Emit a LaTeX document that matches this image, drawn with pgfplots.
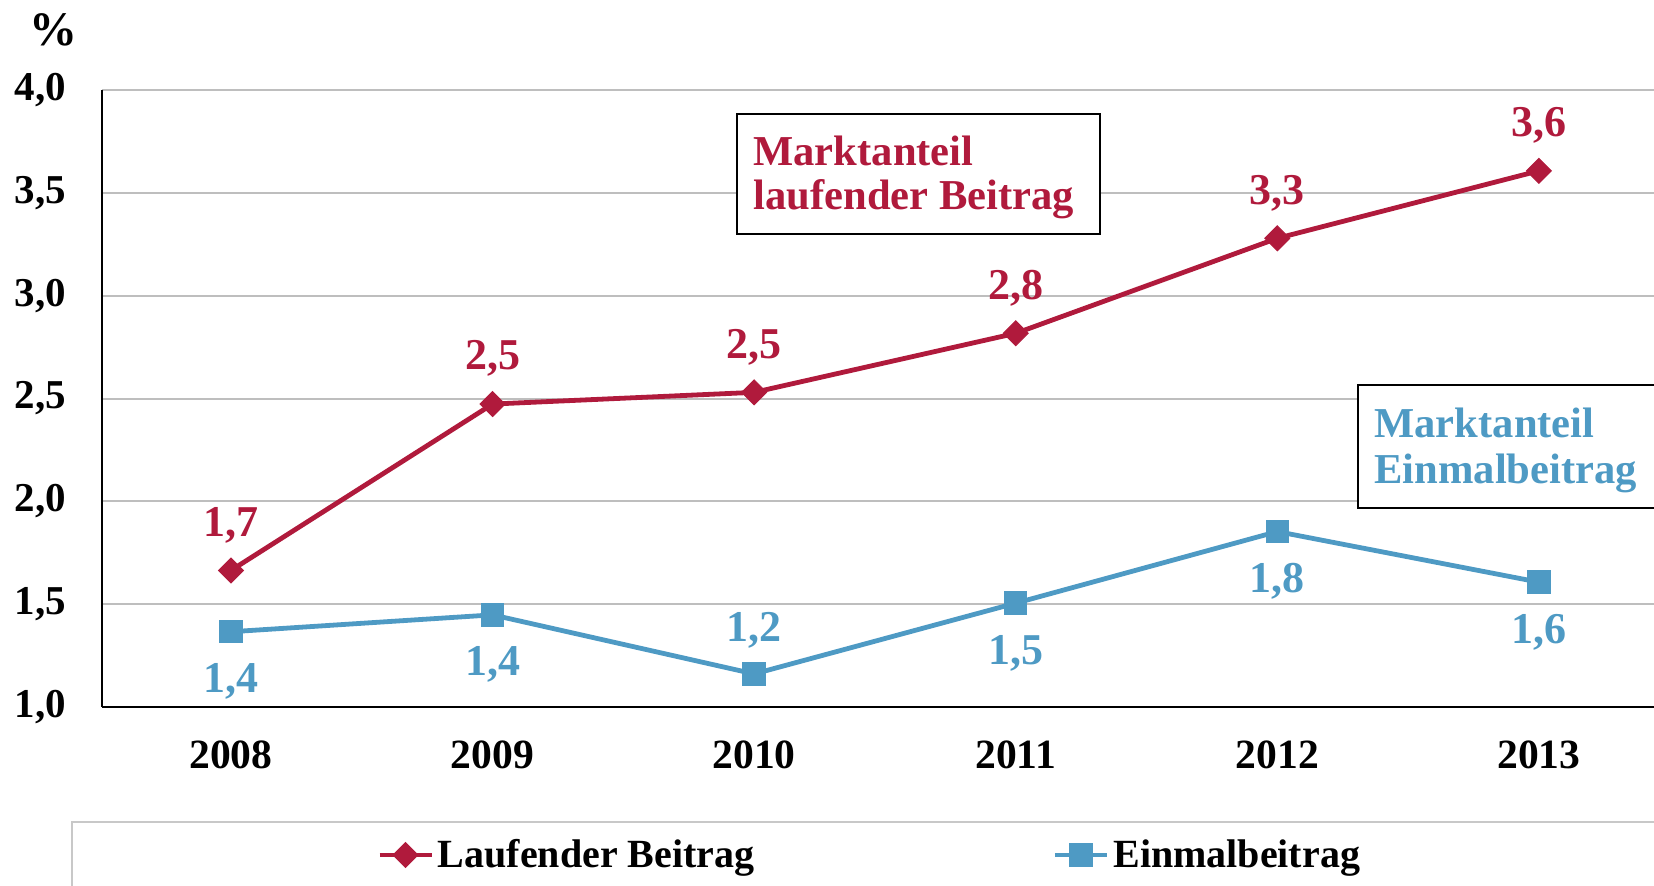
\documentclass[border=0pt]{standalone}
\usepackage{fontspec}
\setmainfont{Liberation Serif}
\usepackage{pgfplots}
\pgfplotsset{compat=1.18}
\usepackage{pgfplotstable}
\definecolor{cred}{RGB}{176,26,60}
\definecolor{cblue}{RGB}{78,154,196}
\definecolor{cgrid}{RGB}{190,190,190}
\definecolor{clegbox}{RGB}{200,200,200}

\pgfplotstableread{
x y lab s
0 1.664 1,7 22.7
1 2.473 2,5 22.7
2 2.530 2,5 22.7
3 2.817 2,8 22.7
4 3.279 3,3 22.7
5 3.607 3,6 22.7
}\redtab

\pgfplotstableread{
x y lab s
0 1.366 1,4 -24.8
1 1.448 1,4 -24.8
2 1.161 1,2 22.0
3 1.505 1,5 -25.0
4 1.853 1,8 -25.0
5 1.607 1,6 -25.0
}\bluetab

\begin{document}
\begin{tikzpicture}
\path[use as bounding box] (-51pt,-89pt) rectangle (776pt,353.5pt);
% legend frame
\draw[clegbox, line width=0.8pt] (-15pt,-100pt) -- (-15pt,-57.5pt) -- (800pt,-57.5pt);
\begin{axis}[
  at={(0,0)}, anchor=south west,
  scale only axis, width=776pt, height=308.5pt,
  xmin=-0.493, xmax=5.44, ymin=1, ymax=4,
  axis lines=left,
  axis line style={-, line width=1.3pt, black},
  ytick={1,1.5,2,2.5,3,3.5,4},
  yticklabels={{1,0},{1,5},{2,0},{2,5},{3,0},{3,5},{4,0}},
  xtick={0,1,2,3,4,5},
  xticklabels={2008,2009,2010,2011,2012,2013},
  major tick length=0pt,
  ymajorgrids,
  grid style={cgrid, line width=1pt},
  yticklabel style={font=\fontsize{20.5}{23}\selectfont\bfseries, anchor=east, inner sep=0pt, xshift=-17.8pt},
  xticklabel style={font=\fontsize{20.8}{23}\selectfont\bfseries, anchor=center, inner sep=0pt, yshift=-24pt},
  clip=false,
  legend columns=2,
  legend style={at={(0.177,-0.2399)}, anchor=west, draw=none, fill=none, inner sep=0pt,
    font=\fontsize{20}{22}\selectfont\bfseries,
    /tikz/every even column/.append style={column sep=147pt}},
  legend image code/.code={\draw[#1, mark repeat=2, mark phase=2] plot coordinates {(0pt,0pt) (13pt,0pt) (26pt,0pt)};},
  point meta=explicit symbolic,
  nodes near coords,
  visualization depends on={\thisrow{s} \as \myshift},
  every node near coord/.append style={anchor=center, yshift=\myshift pt, font=\fontsize{22}{24}\selectfont\bfseries},
]
\addplot[cred, line width=2.4pt, mark=square*, mark size=4.4pt, mark options={rotate=45, solid, line width=0.5pt}, nodes near coords style={text=cred}]
  table[x=x, y=y, meta=lab] {\redtab};
\addlegendentry{Laufender Beitrag}
\addplot[cblue, line width=2.4pt, mark=square*, mark size=5.6pt, mark options={solid, line width=0.5pt}, nodes near coords style={text=cblue}]
  table[x=x, y=y, meta=lab] {\bluetab};
\addlegendentry{Einmalbeitrag}
\end{axis}
% percent sign
\node[font=\fontsize{24}{26}\selectfont\bfseries, inner sep=0pt] at (-24pt,338.5pt) {\%};
% annotation boxes
\draw[black, line width=0.9pt, fill=white] (317.5pt,236.5pt) rectangle (499pt,296.5pt);
\node[anchor=west, inner sep=0pt, text=cred, font=\fontsize{21.3}{23}\selectfont\bfseries] at (325.5pt,278pt) {Marktanteil};
\node[anchor=west, inner sep=0pt, text=cred, font=\fontsize{21.3}{23}\selectfont\bfseries] at (325.5pt,253.8pt) {laufender Beitrag};
\draw[black, line width=0.9pt, fill=white] (628pt,99.5pt) rectangle (790pt,161pt);
\node[anchor=west, inner sep=0pt, text=cblue, font=\fontsize{21.3}{23}\selectfont\bfseries] at (636pt,142pt) {Marktanteil};
\node[anchor=west, inner sep=0pt, text=cblue, font=\fontsize{21.3}{23}\selectfont\bfseries] at (636pt,116.7pt) {Einmalbeitrag};
\end{tikzpicture}
\end{document}
